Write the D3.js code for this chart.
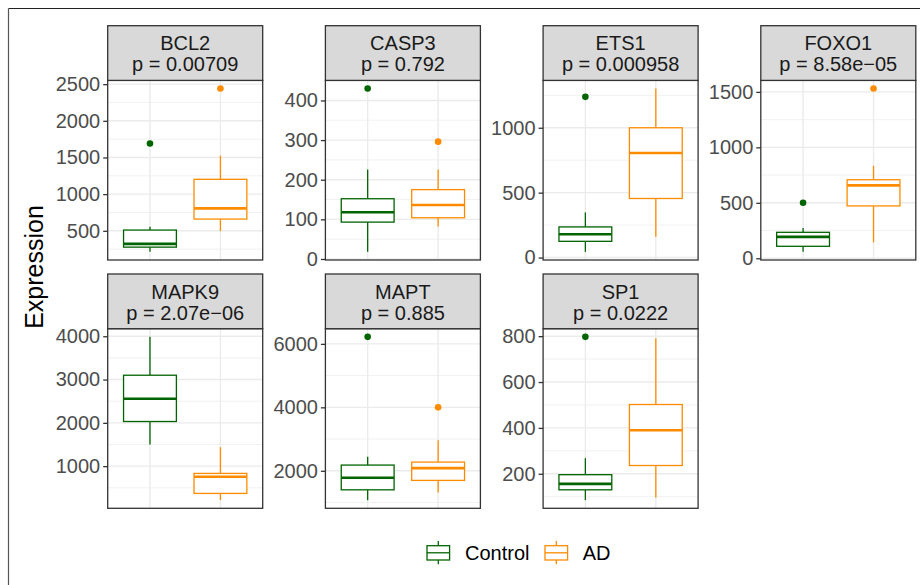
<!DOCTYPE html>
<html><head><meta charset="utf-8">
<script src="https://cdn.jsdelivr.net/npm/d3@7"></script>
<style>html,body{margin:0;padding:0;background:#fff;}svg{display:block;}</style>
</head><body>
<svg id="chart" width="920" height="585"></svg>
<script>
// ---- data ----
const genes = ["BCL2","CASP3","ETS1","FOXO1","MAPK9","MAPT","SP1"];
const pLabels = ["p = 0.00709","p = 0.792","p = 0.000958","p = 8.58e\u221205","p = 2.07e\u221206","p = 0.885","p = 0.0222"];
const groups = ["Control","AD"];
const groupColors = ["#006400","#FF8C00"];
// [lower whisker, Q1, median, Q3, upper whisker]
const controlBox = [[213,277,322,510,555],[18,93,118,152,226],[44,125,179,236,348],[58,108,193,234,274],[1500,2031,2555,3100,3986],[1075,1400,1779,2180,2442],[85,130,156,196,268]];
const controlOut = [[1690],[430],[1238],[501],[],[6221],[797]];
const adBox = [[496,660,806,1202,1525],[82,104,136,175,226],[161,455,806,1000,1302],[144,472,657,708,834],[215,370,755,832,1438],[1318,1697,2085,2274,2960],[97,236,390,502,791]];
const adOut = [[2440],[296],[],[1530],[],[4000],[]];
const yTicks = [[500,1000,1500,2000,2500],[0,100,200,300,400],[0,500,1000],[0,500,1000,1500],[1000,2000,3000,4000],[2000,4000,6000],[200,400,600,800]];

// ---- layout ----
const svg = d3.select("#chart");
const font = "'Liberation Sans', Arial, Helvetica, sans-serif";
const left0 = 107.7, pw = 155, colStep = 217.7;
const stripTop0 = 25.7, stripH = 54.7, ph = 179.6, rowStep = 248.3;
const ncol = 4;

// outer frame
svg.append("line").attr("x1",8.5).attr("x2",920).attr("y1",8.5).attr("y2",8.5).attr("stroke","#222").attr("stroke-width",1.2);
svg.append("line").attr("x1",8.5).attr("x2",8.5).attr("y1",8.5).attr("y2",585).attr("stroke","#555").attr("stroke-width",1.2);

genes.forEach((g,i)=>{
  const col = i % ncol, row = Math.floor(i / ncol);
  const px = left0 + col*colStep;
  const sy = stripTop0 + row*rowStep;
  const py = sy + stripH;
  const boxes = [controlBox[i], adBox[i]];
  const outs = [controlOut[i], adOut[i]];
  const all = boxes.flat().concat(outs.flat());
  const mn = d3.min(all), mx = d3.max(all), r = mx - mn;
  const y = d3.scaleLinear().domain([mn - 0.05*r, mx + 0.05*r]).range([py+ph, py]);
  const x = d3.scalePoint().domain(groups).range([px, px+pw]).padding(0.6);
  const bw = x.step()*0.75;
  const gp = svg.append("g");

  // grid minor
  const t = yTicks[i];
  const d = t[1]-t[0];
  const minors = [];
  for (let k=-1;k<t.length;k++){ minors.push(t[0]+d*(k+0.5)); }
  const dom = y.domain();
  gp.selectAll(".minor").data(minors.filter(v=>v>=dom[0]&&v<=dom[1])).enter().append("line")
    .attr("x1",px).attr("x2",px+pw).attr("y1",v=>y(v)).attr("y2",v=>y(v))
    .attr("stroke","#EBEBEB").attr("stroke-width",0.7);
  gp.selectAll(".major").data(t).enter().append("line")
    .attr("x1",px).attr("x2",px+pw).attr("y1",v=>y(v)).attr("y2",v=>y(v))
    .attr("stroke","#EBEBEB").attr("stroke-width",1.4);
  gp.selectAll(".vmaj").data(groups).enter().append("line")
    .attr("x1",v=>x(v)).attr("x2",v=>x(v)).attr("y1",py).attr("y2",py+ph)
    .attr("stroke","#EBEBEB").attr("stroke-width",1.4);

  // boxes
  groups.forEach((grp,j)=>{
    const b = boxes[j], c = groupColors[j], cx = x(grp);
    const bg = gp.append("g").attr("stroke",c).attr("fill","none");
    bg.append("line").attr("x1",cx).attr("x2",cx).attr("y1",y(b[0])).attr("y2",y(b[1])).attr("stroke-width",1.3);
    bg.append("line").attr("x1",cx).attr("x2",cx).attr("y1",y(b[3])).attr("y2",y(b[4])).attr("stroke-width",1.3);
    bg.append("rect").attr("x",cx-bw/2).attr("width",bw).attr("y",y(b[3])).attr("height",y(b[1])-y(b[3]))
      .attr("fill","#fff").attr("stroke-width",1.3);
    bg.append("line").attr("x1",cx-bw/2).attr("x2",cx+bw/2).attr("y1",y(b[2])).attr("y2",y(b[2])).attr("stroke-width",2.6);
    gp.selectAll(null).data(outs[j]).enter().append("circle")
      .attr("cx",cx).attr("cy",v=>y(v)).attr("r",3.3).attr("fill",c);
  });

  // panel border
  gp.append("rect").attr("x",px).attr("y",py).attr("width",pw).attr("height",ph)
    .attr("fill","none").attr("stroke","#333").attr("stroke-width",1.3);

  // y axis
  const ax = d3.axisLeft(y).tickValues(t).tickSize(4.5).tickPadding(3).tickFormat(d3.format("d"));
  const ag = svg.append("g").attr("transform",`translate(${px},0)`).call(ax);
  ag.select(".domain").remove();
  ag.selectAll(".tick line").attr("stroke","#333").attr("stroke-width",1.3);
  ag.selectAll(".tick text").attr("fill","#4D4D4D").style("font-family",font).style("font-size","20px");

  // strip
  svg.append("rect").attr("x",px).attr("y",sy).attr("width",pw).attr("height",stripH)
    .attr("fill","#D9D9D9").attr("stroke","#333").attr("stroke-width",1.3);
  svg.append("text").attr("x",px+pw/2).attr("y",sy+24.5).attr("text-anchor","middle")
    .attr("fill","#1A1A1A").style("font-family",font).style("font-size","20px").text(g);
  svg.append("text").attr("x",px+pw/2).attr("y",sy+45.5).attr("text-anchor","middle")
    .attr("fill","#1A1A1A").style("font-family",font).style("font-size","20px").text(pLabels[i]);
});

// y-axis title
svg.append("text").attr("transform","translate(43,267) rotate(-90)").attr("text-anchor","middle")
  .attr("fill","#000").style("font-family",font).style("font-size","25px").text("Expression");

// legend
const legX = [427, 545], legTextX = [465, 582.7];
groups.forEach((grp,j)=>{
  const c = groupColors[j], lx = legX[j], kw = 22.6, cx = lx + kw/2;
  const lg = svg.append("g").attr("stroke",c).attr("fill","none").attr("stroke-width",1.3);
  lg.append("line").attr("x1",cx).attr("x2",cx).attr("y1",541).attr("y2",545.7);
  lg.append("line").attr("x1",cx).attr("x2",cx).attr("y1",560).attr("y2",564.3);
  lg.append("rect").attr("x",lx).attr("y",545.7).attr("width",kw).attr("height",14.3).attr("fill","#fff");
  lg.append("line").attr("x1",lx).attr("x2",lx+kw).attr("y1",552.8).attr("y2",552.8);
  svg.append("text").attr("x",legTextX[j]).attr("y",560).attr("fill","#000")
    .style("font-family",font).style("font-size","20px").text(grp);
});
</script>
</body></html>
